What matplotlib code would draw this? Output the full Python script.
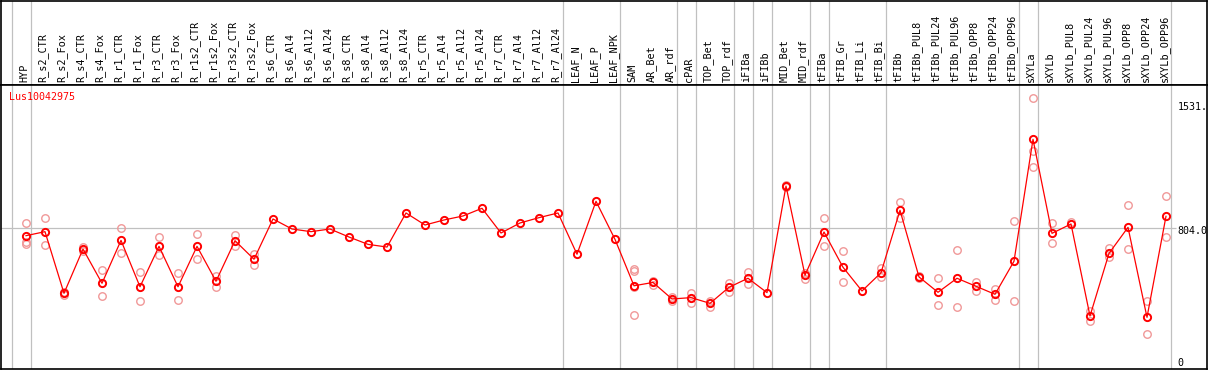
import numpy as np
import matplotlib
matplotlib.use("Agg")
import matplotlib.pyplot as plt

# --- data
gene_id = "Lus10042975"

samples = [
    "HYP", "R_s2_CTR", "R_s2_Fox", "R_s4_CTR", "R_s4_Fox", "R_r1_CTR", "R_r1_Fox",
    "R_r3_CTR", "R_r3_Fox", "R_r1s2_CTR", "R_r1s2_Fox", "R_r3s2_CTR", "R_r3s2_Fox",
    "R_s6_CTR", "R_s6_Al4", "R_s6_Al12", "R_s6_Al24", "R_s8_CTR", "R_s8_Al4",
    "R_s8_Al12", "R_s8_Al24", "R_r5_CTR", "R_r5_Al4", "R_r5_Al12", "R_r5_Al24",
    "R_r7_CTR", "R_r7_Al4", "R_r7_Al12", "R_r7_Al24", "LEAF_N", "LEAF_P", "LEAF_NPK",
    "SAM", "AR_Bet", "AR_rdf", "cPAR", "TOP_Bet", "TOP_rdf", "iFIBa", "iFIBb",
    "MID_Bet", "MID_rdf", "tFIBa", "tFIB_Gr", "tFIB_Li", "tFIB_Bi", "tFIBb",
    "tFIBb_PUL8", "tFIBb_PUL24", "tFIBb_PUL96", "tFIBb_OPP8", "tFIBb_OPP24", "tFIBb_OPP96",
    "sXYLa", "sXYLb", "sXYLb_PUL8", "sXYLb_PUL24", "sXYLb_PUL96", "sXYLb_OPP8",
    "sXYLb_OPP24", "sXYLb_OPP96",
]

mean_expr = [
    760, 784, 415, 680, 475, 732, 454, 696, 454, 696, 487, 730, 619,
    860, 800, 784, 800, 752, 708, 692, 896, 824, 854, 878, 924,
    776, 836, 868, 896, 649, 966, 738,
    460, 480, 381, 389, 355, 451, 505, 419,
    1057, 523, 782, 571, 429, 538, 912,
    513, 421, 505, 457, 409, 607,
    1337, 774, 830, 279, 654, 810, 271, 876,
]

rep_expr = [
    [836, 724, 712], [866, 706], [423, 405], [692, 670], [553, 401], [804, 654],
    [541, 367], [752, 642], [535, 373], [768, 622], [520, 454], [764, 700], [650, 586],
    [], [], [], [], [], [], [], [], [], [], [], [],
    [], [], [], [], [], [], [],
    [559, 549, 283, 453], [490, 465], [395, 371], [419, 359], [371, 335], [478, 425],
    [543, 472], [],
    [1065, 1051], [535, 502], [864, 696], [668, 481], [], [566, 514], [962, 868],
    [519, 505], [505, 343], [672, 331], [483, 427], [439, 377], [846, 367],
    [1583, 1265, 1169], [834, 714], [844], [309, 251], [684, 634], [942, 678],
    [369, 171], [996, 750],
]

# sample index after which a group separator is drawn
group_ends = [-1, 0, 28, 31, 34, 35, 37, 38, 39, 41, 42, 45, 52, 53, 60]

y_marks = [1531.2, 804.0, 0]
y_mark_text = ["1531.", "804.0", "0"]

# --- layout (pixel based, 1209 x 370)
W, H = 1209, 370
header_px = 85
x0_px, dx_px = 26, 19
x_lo = (1 - x0_px) / dx_px
x_hi = (1207 - x0_px) / dx_px
y_scale = 0.167  # px per unit
y_zero_px = 362.6
y_lo = (y_zero_px - 369) / y_scale
y_hi = (y_zero_px - header_px) / y_scale

mono = "DejaVu Sans Mono"
grid_c = "#c0c0c0"

fig = plt.figure(figsize=(W / 100, H / 100), dpi=100)
ax_h = fig.add_axes([1 / W, (H - header_px) / H, 1206 / W, (header_px - 1) / H])
ax = fig.add_axes([1 / W, 1 / H, 1206 / W, (H - header_px - 1) / H])

for a in (ax_h, ax):
    a.set_xlim(x_lo, x_hi)
    a.set_xticks([])
    a.set_yticks([])
    for s in a.spines.values():
        s.set_color("black")
        s.set_linewidth(1.2)
    for g in group_ends:
        a.axvline(g + 0.25, color=grid_c, lw=0.9, zorder=0)

ax_h.set_ylim(0, 1)
for i, name in enumerate(samples):
    ax_h.text(i - 0.1, 0.03, name, rotation=90, ha="center", va="bottom",
              fontsize=7.3, family=mono)

ax.set_ylim(y_lo, y_hi)
xs = np.arange(len(samples))
ax.hlines(804.0, x_lo, 60.5, color=grid_c, lw=0.9, zorder=0)

# replicates
for i, reps in enumerate(rep_expr):
    if reps:
        ax.plot([i] * len(reps), reps, "o", ms=5.4, mfc="none", mec="#f09898",
                mew=1.0, zorder=2)

# means
ax.plot(xs, mean_expr, "-", color="#ff0000", lw=0.9, zorder=3)
ax.plot(xs, mean_expr, "o", ms=5.2, mfc="none", mec="#ff0000", mew=1.4, zorder=4)

ax.text(-0.9, y_hi - 12 / y_scale, gene_id, color="#ff0000", fontsize=7.2,
        family=mono, ha="left", va="center")

for v, t in zip(y_marks, y_mark_text):
    off = -3 / y_scale if t == "804.0" else 0
    ax.text(60.6, v + off, t, fontsize=7.2, family=mono, ha="left", va="center")

fig.savefig("out.png", dpi=100)
